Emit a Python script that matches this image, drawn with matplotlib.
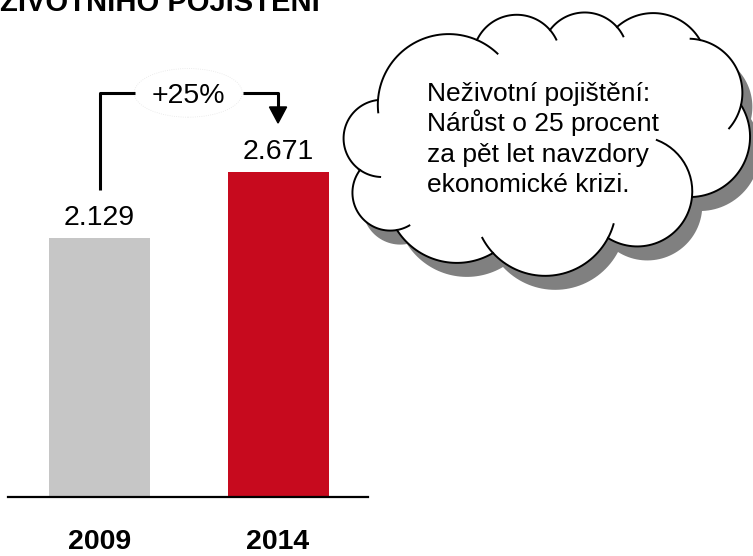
import numpy as np
import matplotlib.pyplot as plt
from matplotlib.patches import Polygon, Ellipse

plt.rcParams['font.family'] = ['Liberation Sans', 'DejaVu Sans']

years = ['2009', '2014']
values = [2.129, 2.671]
bar_colors = ['#c6c6c6', '#c70a1e']
title = 'ŽIVOTNÍHO POJIŠTĚNÍ'
cloud_lines = ['Neživotní pojištění:', 'Nárůst o 25 procent',
               'za pět let navzdory', 'ekonomické krizi.']

# cloud shape (pixels, y down): junctions between bumps, bump depth,
# and how far each bump arc runs on inside (deg) at its start / end
cloud_pts = [(477, 40), (550, 30), (617, 27), (700, 40), (741, 105), (692, 197),
             (608, 238), (493, 253), (397, 230), (360, 170), (378, 100)]
cloud_sag = [20, 16, 20, 16, 30, 26, 30, 20, 24, 25, 30]
cloud_ext = [(0, 15), (0, 15), (0, 0), (10, 28), (0, 0), (75, 0),
             (12, 15), (0, 0), (20, 0), (32, 0), (10, 20)]


def bump(p0, p1, s, e0=0, e1=0, n=40):
    p0, p1 = np.array(p0, float), np.array(p1, float)
    d = p1 - p0
    c = np.hypot(d[0], d[1])
    nrm = np.array([d[1], -d[0]]) / c
    R = (c ** 2 / 4 + s ** 2) / (2 * s)
    ctr = (p0 + p1) / 2 - nrm * (R - s)
    phi = np.arctan2(nrm[1], nrm[0])
    th = np.arcsin(min(1.0, c / 2 / R))
    if s > R:
        th = np.pi - th
    a0 = np.arctan2(p0[1] - ctr[1], p0[0] - ctr[0])
    dd = (a0 - phi + np.pi) % (2 * np.pi) - np.pi
    start = phi + th if dd > 0 else phi - th
    sg = -1 if dd > 0 else 1
    pts = lambda a: np.c_[ctr[0] + R * np.cos(a), ctr[1] + R * np.sin(a)]
    main = pts(start + sg * np.linspace(0, 2 * th, n))
    ticks = []
    if e0:
        ticks.append(pts(start - sg * np.linspace(0, np.radians(e0), 15)))
    if e1:
        ticks.append(pts(start + sg * (2 * th + np.linspace(0, np.radians(e1), 15))))
    return main, ticks


fig = plt.figure(figsize=(7.53, 5.56), dpi=100)

# bars
ax = fig.add_axes([8 / 753, 59 / 556, 360 / 753, 497 / 556])
x = np.arange(len(values))
ax.bar(x, values, width=0.566, color=bar_colors, zorder=2)
ax.set_xlim(-0.513, 1.504)
ax.set_ylim(0, 4.084)
for s in ['top', 'right', 'left']:
    ax.spines[s].set_visible(False)
ax.spines['bottom'].set_linewidth(1.6)
ax.set_xticks([])
ax.set_yticks([])

for i, v in enumerate(values):
    ax.annotate(f'{v:.3f}', (i, v), xytext=(0, 9),
                textcoords='offset points', ha='center', va='baseline', fontsize=20.5)
    ax.annotate(years[i], (i, 0), xycoords=('data', 'axes fraction'), xytext=(0, -37.5),
                textcoords='offset points', ha='center', va='baseline',
                fontsize=20.5, fontweight='bold')

# growth bracket
top = max(values) + 0.65
ax.plot([0, 0, 0.199], [values[0] + 0.394, top, top], color='black', lw=2.2,
        solid_capstyle='butt', clip_on=False)
ax.plot([0.804, 1, 1], [top, top, values[1] + 0.53], color='black', lw=2.2,
        solid_capstyle='butt', clip_on=False)
tip = values[1] + 0.402
ax.add_patch(Polygon([[1 - 0.048, tip + 0.132], [1 + 0.048, tip + 0.132], [1, tip]],
                     closed=True, color='black', clip_on=False))
ax.add_patch(Ellipse((0.497, top), 0.605, 0.40, fill=False, ec='#e6e6e6',
                     lw=0.6, ls=':', clip_on=False))
pct = (values[1] / values[0] - 1) * 100
ax.text(0.5, top - 0.083, f'+{pct:.0f}%', ha='center', va='baseline', fontsize=20.5)

# overlay in pixel coordinates for title and cloud
ov = fig.add_axes([0, 0, 1, 1])
ov.set_xlim(0, 753)
ov.set_ylim(556, 0)
ov.axis('off')

ov.text(0, 11, title, ha='left', va='baseline', fontsize=21, fontweight='bold')

outline, strokes = [], []
for i in range(len(cloud_pts)):
    m, t = bump(cloud_pts[i], cloud_pts[(i + 1) % len(cloud_pts)], cloud_sag[i], *cloud_ext[i])
    outline.append(m)
    strokes += t
outline = np.vstack(outline)
ov.add_patch(Polygon(outline + [10, 14], closed=True, fc='#808080', ec='none', zorder=1))
ov.add_patch(Polygon(outline, closed=True, fc='white', ec='black', lw=1.4, zorder=2))
for t in strokes:
    ov.plot(t[:, 0], t[:, 1], color='black', lw=1.4, zorder=3)

for k, line in enumerate(cloud_lines):
    ov.text(427, 101 + 30.3 * k, line, ha='left', va='baseline', fontsize=19, zorder=4)

fig.savefig('out.png', dpi=100)
